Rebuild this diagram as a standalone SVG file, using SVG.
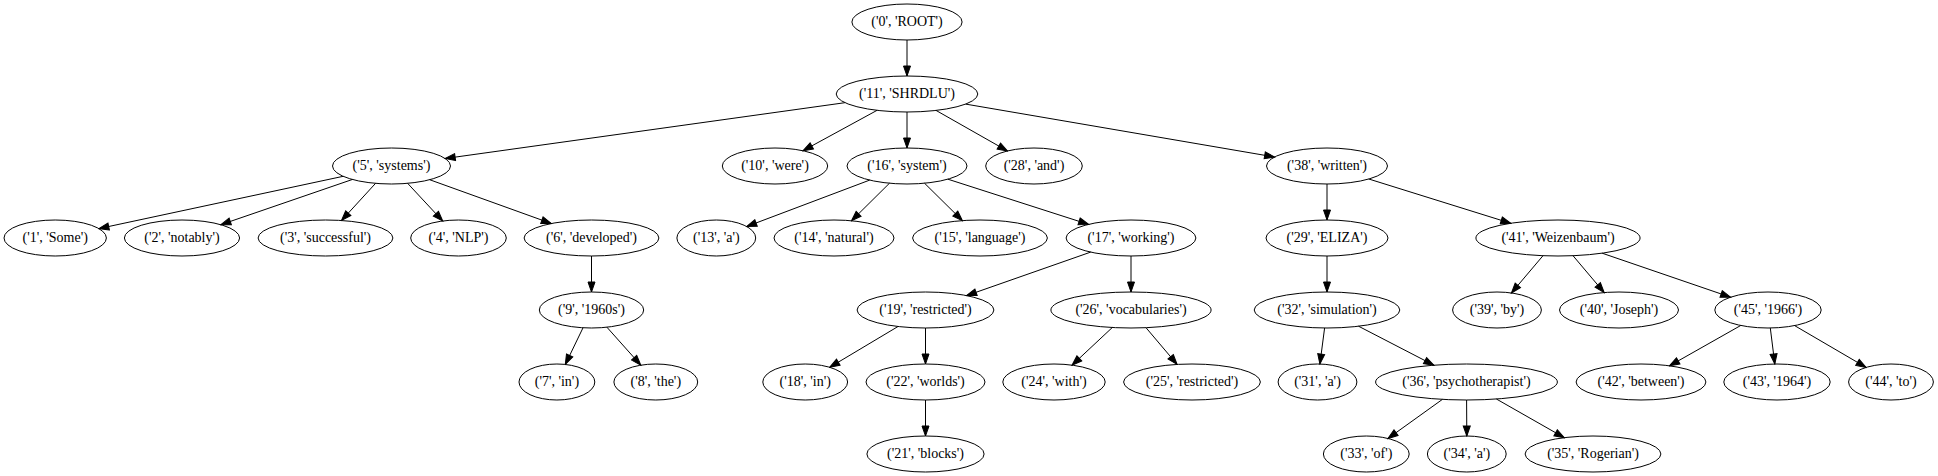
<svg xmlns="http://www.w3.org/2000/svg" width="1938" height="476" viewBox="0 0 1938 476">
<style>
.n ellipse{fill:none;stroke:#000;stroke-width:1}
.n text{font-family:'Liberation Serif','Times New Roman',Times,serif;font-size:14px;text-anchor:middle;fill:#000}
#edges line{stroke:#000;stroke-width:1;marker-end:url(#ah)}
</style>
<defs>
<marker id="ah" markerUnits="userSpaceOnUse" markerWidth="12" markerHeight="9" refX="10" refY="3.5" orient="auto" viewBox="-1 -1 12 9">
<path d="M0,0 L10,3.5 L0,7 Z" fill="#000" stroke="#000" stroke-width="1"/>
</marker>
</defs>
<rect width="1938" height="476" fill="#fff"/>
<g id="edges">
<line x1="907" y1="40" x2="907" y2="76"/>
<line x1="844.9" y1="102.7" x2="445.2" y2="158.5"/>
<line x1="877.1" y1="110.3" x2="803.0" y2="150.7"/>
<line x1="907" y1="112" x2="907" y2="148"/>
<line x1="936.0" y1="110.4" x2="1007.5" y2="151.0"/>
<line x1="965.7" y1="104.1" x2="1274.6" y2="157.0"/>
<line x1="343.2" y1="176.3" x2="98.9" y2="228.6"/>
<line x1="352.3" y1="179.5" x2="220.8" y2="224.7"/>
<line x1="375.6" y1="183.3" x2="341.5" y2="220.5"/>
<line x1="407.6" y1="183.3" x2="442.7" y2="221.0"/>
<line x1="429.6" y1="179.7" x2="551.3" y2="223.5"/>
<line x1="869.7" y1="180.1" x2="746.7" y2="226.5"/>
<line x1="889.5" y1="183.2" x2="851.5" y2="220.8"/>
<line x1="924.5" y1="183.2" x2="962.4" y2="220.6"/>
<line x1="947.9" y1="179.2" x2="1088.6" y2="224.4"/>
<line x1="1327" y1="184" x2="1327" y2="220"/>
<line x1="1368.8" y1="179.0" x2="1510.8" y2="223.3"/>
<line x1="591.5" y1="256" x2="591.5" y2="292"/>
<line x1="1090.7" y1="252.1" x2="966.6" y2="295.6"/>
<line x1="1131" y1="256" x2="1131" y2="292"/>
<line x1="1327" y1="256" x2="1327" y2="292"/>
<line x1="1543.0" y1="255.7" x2="1511.4" y2="293.0"/>
<line x1="1573.0" y1="255.7" x2="1604.2" y2="292.6"/>
<line x1="1602.2" y1="253.2" x2="1730.6" y2="297.2"/>
<line x1="583.0" y1="327.8" x2="565.3" y2="364.5"/>
<line x1="606.9" y1="327.2" x2="640.8" y2="365.2"/>
<line x1="898.0" y1="326.5" x2="829.7" y2="367.3"/>
<line x1="925.5" y1="328" x2="925.5" y2="364"/>
<line x1="1112.3" y1="327.5" x2="1072.0" y2="365.2"/>
<line x1="1146.0" y1="327.7" x2="1177.1" y2="364.4"/>
<line x1="1324.6" y1="328.0" x2="1319.9" y2="364.0"/>
<line x1="1358.5" y1="326.2" x2="1433.9" y2="365.2"/>
<line x1="1740.7" y1="325.5" x2="1669.5" y2="365.8"/>
<line x1="1770.3" y1="328.0" x2="1774.8" y2="364.0"/>
<line x1="1794.6" y1="325.6" x2="1866.1" y2="367.4"/>
<line x1="925.5" y1="400" x2="925.5" y2="436"/>
<line x1="1442.4" y1="399.4" x2="1387.9" y2="438.5"/>
<line x1="1466.6" y1="400" x2="1466.8" y2="436"/>
<line x1="1496.4" y1="399.0" x2="1564.3" y2="437.7"/>
</g>
<g font-family="Liberation Serif, Times New Roman, serif" font-size="14">
<g id="n0" class="n"><ellipse cx="907" cy="22" rx="55.1" ry="18"/><text x="907" y="26.2">('0', 'ROOT')</text></g>
<g id="n11" class="n"><ellipse cx="907" cy="94" rx="70.8" ry="18"/><text x="907" y="98.2">('11', 'SHRDLU')</text></g>
<g id="n5" class="n"><ellipse cx="391.5" cy="166" rx="59" ry="18"/><text x="391.5" y="170.2">('5', 'systems')</text></g>
<g id="n10" class="n"><ellipse cx="775" cy="166" rx="52.7" ry="18"/><text x="775" y="170.2">('10', 'were')</text></g>
<g id="n16" class="n"><ellipse cx="907" cy="166" rx="60" ry="18"/><text x="907" y="170.2">('16', 'system')</text></g>
<g id="n28" class="n"><ellipse cx="1034" cy="166" rx="48.3" ry="18"/><text x="1034" y="170.2">('28', 'and')</text></g>
<g id="n38" class="n"><ellipse cx="1327" cy="166" rx="60.5" ry="18"/><text x="1327" y="170.2">('38', 'written')</text></g>
<g id="n1" class="n"><ellipse cx="55.2" cy="238" rx="51.2" ry="18"/><text x="55.2" y="242.2">('1', 'Some')</text></g>
<g id="n2" class="n"><ellipse cx="182" cy="238" rx="57.6" ry="18"/><text x="182" y="242.2">('2', 'notably')</text></g>
<g id="n3" class="n"><ellipse cx="325.5" cy="238" rx="67.4" ry="18"/><text x="325.5" y="242.2">('3', 'successful')</text></g>
<g id="n4" class="n"><ellipse cx="458.5" cy="238" rx="47.8" ry="18"/><text x="458.5" y="242.2">('4', 'NLP')</text></g>
<g id="n6" class="n"><ellipse cx="591.5" cy="238" rx="67.4" ry="18"/><text x="591.5" y="242.2">('6', 'developed')</text></g>
<g id="n13" class="n"><ellipse cx="716.3" cy="238" rx="39.4" ry="18"/><text x="716.3" y="242.2">('13', 'a')</text></g>
<g id="n14" class="n"><ellipse cx="834" cy="238" rx="60" ry="18"/><text x="834" y="242.2">('14', 'natural')</text></g>
<g id="n15" class="n"><ellipse cx="980" cy="238" rx="67.4" ry="18"/><text x="980" y="242.2">('15', 'language')</text></g>
<g id="n17" class="n"><ellipse cx="1131" cy="238" rx="64.9" ry="18"/><text x="1131" y="242.2">('17', 'working')</text></g>
<g id="n29" class="n"><ellipse cx="1327" cy="238" rx="61" ry="18"/><text x="1327" y="242.2">('29', 'ELIZA')</text></g>
<g id="n41" class="n"><ellipse cx="1558" cy="238" rx="82.1" ry="18"/><text x="1558" y="242.2">('41', 'Weizenbaum')</text></g>
<g id="n9" class="n"><ellipse cx="591.5" cy="310" rx="52.2" ry="18"/><text x="591.5" y="314.2">('9', '1960s')</text></g>
<g id="n19" class="n"><ellipse cx="925.5" cy="310" rx="68.4" ry="18"/><text x="925.5" y="314.2">('19', 'restricted')</text></g>
<g id="n26" class="n"><ellipse cx="1131" cy="310" rx="80.1" ry="18"/><text x="1131" y="314.2">('26', 'vocabularies')</text></g>
<g id="n32" class="n"><ellipse cx="1327" cy="310" rx="72.8" ry="18"/><text x="1327" y="314.2">('32', 'simulation')</text></g>
<g id="n39" class="n"><ellipse cx="1497" cy="310" rx="44.4" ry="18"/><text x="1497" y="314.2">('39', 'by')</text></g>
<g id="n40" class="n"><ellipse cx="1619" cy="310" rx="59.5" ry="18"/><text x="1619" y="314.2">('40', 'Joseph')</text></g>
<g id="n45" class="n"><ellipse cx="1768" cy="310" rx="53.2" ry="18"/><text x="1768" y="314.2">('45', '1966')</text></g>
<g id="n7" class="n"><ellipse cx="556.9" cy="382" rx="37.9" ry="18"/><text x="556.9" y="386.2">('7', 'in')</text></g>
<g id="n8" class="n"><ellipse cx="655.8" cy="382" rx="41.9" ry="18"/><text x="655.8" y="386.2">('8', 'the')</text></g>
<g id="n18" class="n"><ellipse cx="805.2" cy="382" rx="42.4" ry="18"/><text x="805.2" y="386.2">('18', 'in')</text></g>
<g id="n22" class="n"><ellipse cx="925.5" cy="382" rx="59.5" ry="18"/><text x="925.5" y="386.2">('22', 'worlds')</text></g>
<g id="n24" class="n"><ellipse cx="1054" cy="382" rx="51.2" ry="18"/><text x="1054" y="386.2">('24', 'with')</text></g>
<g id="n25" class="n"><ellipse cx="1192" cy="382" rx="68.4" ry="18"/><text x="1192" y="386.2">('25', 'restricted')</text></g>
<g id="n31" class="n"><ellipse cx="1317.5" cy="382" rx="39.4" ry="18"/><text x="1317.5" y="386.2">('31', 'a')</text></g>
<g id="n36" class="n"><ellipse cx="1466.5" cy="382" rx="90.9" ry="18"/><text x="1466.5" y="386.2">('36', 'psychotherapist')</text></g>
<g id="n42" class="n"><ellipse cx="1641" cy="382" rx="64.9" ry="18"/><text x="1641" y="386.2">('42', 'between')</text></g>
<g id="n43" class="n"><ellipse cx="1777" cy="382" rx="53.2" ry="18"/><text x="1777" y="386.2">('43', '1964')</text></g>
<g id="n44" class="n"><ellipse cx="1891" cy="382" rx="42.4" ry="18"/><text x="1891" y="386.2">('44', 'to')</text></g>
<g id="n21" class="n"><ellipse cx="925.5" cy="454" rx="58.6" ry="18"/><text x="925.5" y="458.2">('21', 'blocks')</text></g>
<g id="n33" class="n"><ellipse cx="1366.3" cy="454" rx="42.9" ry="18"/><text x="1366.3" y="458.2">('33', 'of')</text></g>
<g id="n34" class="n"><ellipse cx="1466.8" cy="454" rx="39.4" ry="18"/><text x="1466.8" y="458.2">('34', 'a')</text></g>
<g id="n35" class="n"><ellipse cx="1593" cy="454" rx="67.9" ry="18"/><text x="1593" y="458.2">('35', 'Rogerian')</text></g>
</g>
</svg>
